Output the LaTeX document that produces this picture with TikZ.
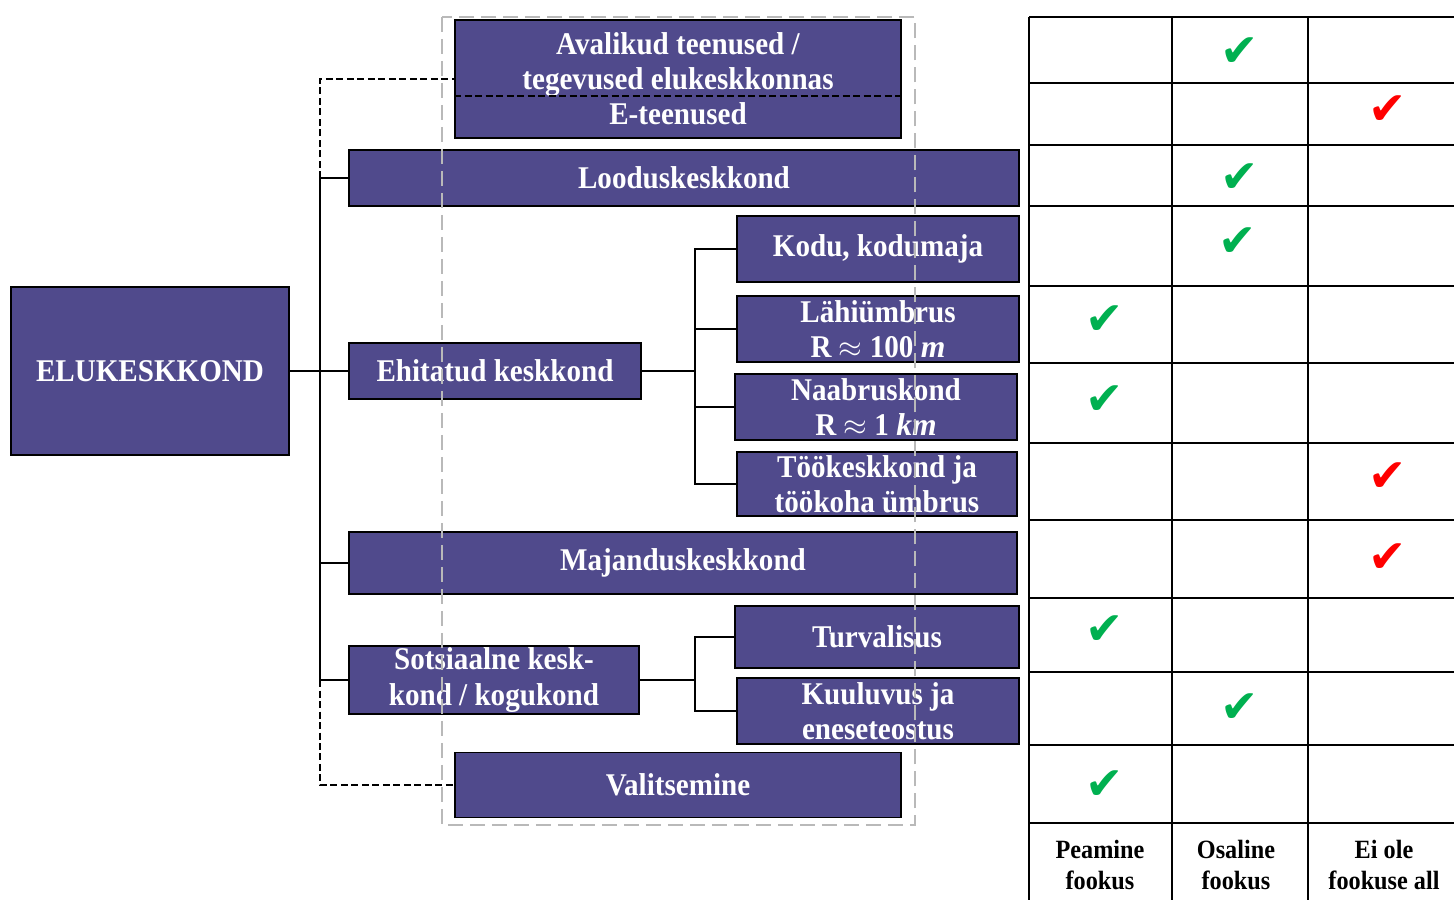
\documentclass[tikz,border=0pt]{standalone}
\usepackage{fontspec}
\setmainfont{Liberation Serif}[BoldFeatures={FakeStretch=0.92}]
\newfontfamily\chkfont{DejaVu Sans}
\usepackage{tikz}
\usetikzlibrary{calc}
\tikzset{>=latex}

\definecolor{boxblue}{RGB}{80,74,140}
\definecolor{chkgreen}{RGB}{0,176,80}
\definecolor{chkred}{RGB}{255,0,0}

\tikzset{
    box/.style={draw=black, line width=1pt, fill=boxblue, text=white, align=center,
        inner sep=0pt, font=\fontsize{18}{20}\selectfont\bfseries},
    conn/.style={line width=0.8pt},
    dconn/.style={line width=0.8pt, dash pattern=on 0.14cm off 0.07cm},
    grid/.style={line width=1.1pt},
    chk/.style={inner sep=0pt, font=\chkfont\fontsize{26}{26}\selectfont},
    head/.style={align=center, font=\fontsize{15}{18.2}\selectfont\bfseries},
}

\begin{document}
\begin{tikzpicture}[x=0.02cm,y=-0.02cm]
    \useasboundingbox (0,0) rectangle (1454,900);

    \node[box, minimum width=5.56cm, minimum height=3.36cm] (root) at (150,371) {ELUKESKKOND};

    \node[box, minimum width=8.92cm, minimum height=2.36cm] (avalikud) at (678,79)
        {Avalikud teenused /\\tegevused elukeskkonnas\\E-teenused};
    \node[box, minimum width=13.4cm, minimum height=1.12cm] (loodus) at (684,178) {Looduskeskkond};
    \node[box, minimum width=5.84cm, minimum height=1.12cm] (ehitatud) at (495,371) {Ehitatud keskkond};
    \node[box, minimum width=5.64cm, minimum height=1.32cm] (kodu) at (878,249) {Kodu, kodumaja};
    \node[box, minimum width=5.64cm, minimum height=1.32cm] (lahi) at (878,329)
        {Lähiümbrus\\R $\approx$ 100 \textit{m}};
    \node[box, minimum width=5.64cm, minimum height=1.32cm] (naabrus) at (876,407)
        {Naabruskond\\R $\approx$ 1 \textit{km}};
    \node[box, minimum width=5.6cm, minimum height=1.28cm] (tookesk) at (877,484)
        {Töökeskkond ja\\töökoha ümbrus};
    \node[box, minimum width=13.36cm, minimum height=1.24cm] (majandus) at (683,563) {Majanduskeskkond};
    \node[box, minimum width=5.8cm, minimum height=1.36cm] (sots) at (494,680)
        {Sotsiaalne kesk-\\kond / kogukond};
    \node[box, minimum width=5.68cm, minimum height=1.24cm] (turva) at (877,637) {Turvalisus};
    \node[box, minimum width=5.64cm, minimum height=1.32cm] (kuuluvus) at (878,711)
        {Kuuluvus ja\\eneseteostus};
    \node[box, minimum width=8.92cm, minimum height=1.3cm] (valits) at (678,785) {Valitsemine};

    \draw[dconn] ([yshift=-0.34cm]avalikud.west) -- ([yshift=-0.34cm]avalikud.east);

    % trunk
    \coordinate (tt) at (320,178);
    \coordinate (tb) at (320,680);
    \coordinate (eb) at (695,371);
    \coordinate (sb) at (695,678);

    \draw[conn] (loodus.west) -- (tt) -- (tb) -- (sots.west);
    \draw[conn] (majandus.west) -- (majandus.west -| tt);
    \draw[conn] (root.east) -- (ehitatud.west);
    \draw[dconn] (tt) |- (avalikud.west);
    \draw[dconn] (tb) |- (valits.west);

    \draw[conn] (ehitatud.east) -- (eb);
    \draw[conn] (kodu.west) -- (kodu.west -| eb) -- (tookesk.west -| eb) -- (tookesk.west);
    \foreach \n in {lahi,naabrus}
        \draw[conn] (\n.west) -- (\n.west -| eb);

    \draw[conn] (sots.east) -- (sb |- sots.east);
    \draw[conn] (turva.west) -- (turva.west -| sb) -- (kuuluvus.west -| sb) -- (kuuluvus.west);

    \draw[gray!55, line width=0.9pt, dash pattern=on 0.3cm off 0.14cm] (442,17) rectangle (915,825);

    % table
    \foreach \x in {1029,1172,1308}
        \draw[grid] (\x,17) -- (\x,900);
    \foreach \y in {17,83,145,206,286,363,443,520,598,672,745,823}
        \draw[grid] (1029,\y) -- (1454,\y);

    \foreach \y/\x/\col [count=\i] in {52/1240/chkgreen, 110/1388/chkred, 178/1240/chkgreen,
            242/1238/chkgreen, 320/1105/chkgreen, 400/1105/chkgreen, 477/1388/chkred,
            558/1388/chkred, 630/1105/chkgreen, 708/1240/chkgreen, 785/1105/chkgreen}
        \node[chk, text=\col] (chk\i) at (\x,\y) {✔};

    % Labels
    \node[head] (peamine) at (1100,865) {Peamine\\fookus};
    \node[head] (osaline) at (1236,865) {Osaline\\fookus};
    \node[head] (eiole) at (1384,865) {Ei ole\\fookuse all};
\end{tikzpicture}
\end{document}
